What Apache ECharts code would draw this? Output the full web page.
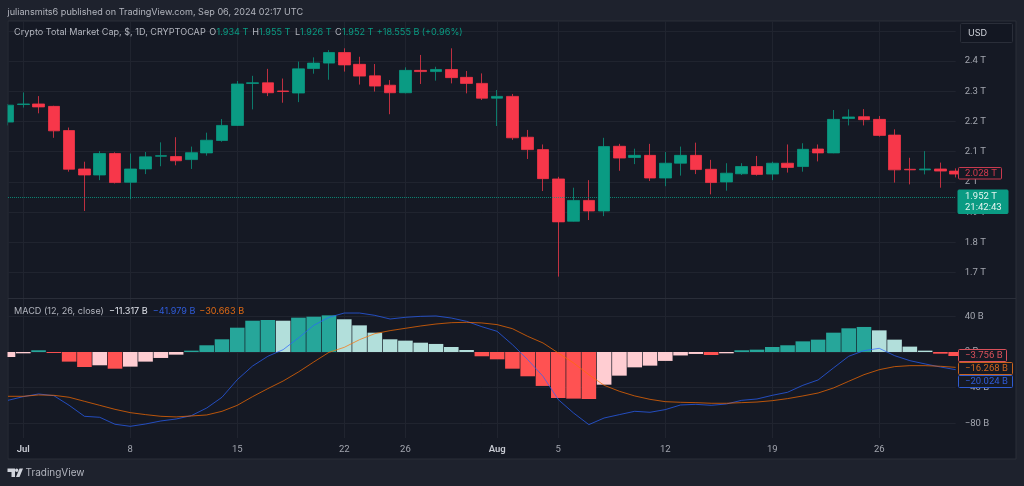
<!DOCTYPE html>
<html>
<head>
<meta charset="utf-8">
<title>Crypto Total Market Cap</title>
<style>
  html, body { margin: 0; padding: 0; background: #1e222d; }
  #chart { width: 1024px; height: 486px; }
</style>
<script src="https://cdn.jsdelivr.net/npm/echarts@6/dist/echarts.min.js"></script>
</head>
<body>
<div id="chart"></div>
<script>
// daily sessions, values
var dates = [
    "06-30", "07-01", "07-02", "07-03", "07-04", "07-05", "07-06", "07-07", "07-08", "07-09",
    "07-10", "07-11", "07-12", "07-13", "07-14", "07-15", "07-16", "07-17", "07-18", "07-19",
    "07-20", "07-21", "07-22", "07-23", "07-24", "07-25", "07-26", "07-27", "07-28", "07-29",
    "07-30", "07-31", "08-01", "08-02", "08-03", "08-04", "08-05", "08-06", "08-07", "08-08",
    "08-09", "08-10", "08-11", "08-12", "08-13", "08-14", "08-15", "08-16", "08-17", "08-18",
    "08-19", "08-20", "08-21", "08-22", "08-23", "08-24", "08-25", "08-26", "08-27", "08-28",
    "08-29", "08-30", "08-31"
];
var tickDates = ["07-01", "07-08", "07-15", "07-22", "07-26", "08-01", "08-05", "08-12", "08-19", "08-26"];
var tickLabels = ["Jul", "8", "15", "22", "26", "Aug", "5", "12", "19", "26"];

// price in trillions
var opens = [
    2.198, 2.256, 2.258, 2.250, 2.170, 2.043, 2.023, 2.094, 1.999, 2.043,
    2.085, 2.084, 2.074, 2.096, 2.137, 2.187, 2.326, 2.328, 2.301, 2.294,
    2.375, 2.393, 2.428, 2.389, 2.351, 2.320, 2.295, 2.369, 2.365, 2.372,
    2.346, 2.326, 2.277, 2.283, 2.148, 2.107, 2.010, 1.870, 1.939, 1.904,
    2.118, 2.081, 2.088, 2.013, 2.062, 2.088, 2.042, 2.000, 2.027, 2.051,
    2.026, 2.062, 2.051, 2.109, 2.096, 2.210, 2.216, 2.207, 2.155, 2.042,
    2.040, 2.043, 2.036
];
var closes = [
    2.254, 2.258, 2.248, 2.169, 2.042, 2.023, 2.094, 1.998, 2.043, 2.083,
    2.087, 2.070, 2.097, 2.138, 2.187, 2.324, 2.328, 2.295, 2.299, 2.374,
    2.393, 2.428, 2.387, 2.350, 2.317, 2.295, 2.369, 2.365, 2.372, 2.345,
    2.326, 2.277, 2.283, 2.146, 2.107, 2.011, 1.868, 1.939, 1.904, 2.117,
    2.079, 2.088, 2.013, 2.062, 2.088, 2.041, 1.998, 2.029, 2.051, 2.025,
    2.062, 2.048, 2.108, 2.096, 2.207, 2.215, 2.206, 2.154, 2.040, 2.040,
    2.043, 2.036, 2.026
];
var lows = [
    2.187, 2.246, 2.227, 2.146, 2.034, 1.904, 2.006, 1.995, 1.943, 2.026,
    2.052, 2.055, 2.043, 2.087, 2.133, 2.185, 2.240, 2.284, 2.262, 2.264,
    2.358, 2.338, 2.365, 2.322, 2.299, 2.224, 2.293, 2.324, 2.335, 2.326,
    2.293, 2.271, 2.185, 2.139, 2.076, 1.970, 1.687, 1.869, 1.874, 1.887,
    2.037, 2.059, 2.003, 1.986, 2.021, 2.026, 1.959, 1.971, 2.023, 2.021,
    2.006, 2.031, 2.034, 2.068, 2.095, 2.187, 2.187, 2.150, 1.998, 1.992,
    2.025, 1.981, 2.015
];
var highs = [
    2.258, 2.296, 2.284, 2.252, 2.180, 2.067, 2.102, 2.098, 2.094, 2.099,
    2.131, 2.148, 2.117, 2.163, 2.208, 2.334, 2.351, 2.374, 2.342, 2.398,
    2.412, 2.436, 2.442, 2.414, 2.390, 2.337, 2.379, 2.420, 2.381, 2.442,
    2.367, 2.359, 2.304, 2.291, 2.172, 2.124, 2.017, 1.981, 2.006, 2.146,
    2.126, 2.110, 2.126, 2.099, 2.117, 2.130, 2.073, 2.062, 2.062, 2.086,
    2.067, 2.124, 2.128, 2.124, 2.238, 2.240, 2.241, 2.218, 2.174, 2.080,
    2.102, 2.064, 2.045
];
var lastPrice = 1.952;

// MACD pane in billions
var histogram = [
    -5.6, -1.5, 1.9, -1.1, -10.8, -16.8, -14.9, -18.7, -16.4, -10.8,
    -6.7, -3.0, 1.5, 7.5, 14.2, 27.2, 35.0, 35.8, 35.0, 38.4,
    39.5, 41.0, 36.6, 29.8, 21.6, 14.2, 12.7, 10.4, 9.0, 5.6,
    2.2, -4.8, -8.2, -18.7, -27.2, -38.0, -51.5, -52.2, -52.6, -36.6,
    -26.5, -17.2, -15.3, -10.0, -3.9, -2.2, -3.4, -1.5, 1.9, 2.6,
    5.6, 7.5, 11.9, 13.8, 21.6, 26.5, 28.0, 24.2, 13.8, 6.0,
    1.5, -1.9, -4.5
];
var macdLine = [
    -54.1, -50.0, -47.0, -48.9, -59.7, -72.0, -73.1, -80.9, -83.2, -80.6,
    -77.2, -75.0, -71.2, -62.7, -50.7, -31.0, -15.7, -4.8, 2.6, 15.7,
    29.8, 38.8, 43.6, 43.6, 41.0, 36.9, 38.8, 39.9, 40.3, 38.0,
    34.3, 28.3, 23.1, 8.2, -8.6, -27.2, -53.3, -68.3, -81.3, -73.9,
    -70.1, -66.4, -67.5, -64.5, -59.3, -58.6, -59.7, -58.2, -54.1, -52.6,
    -48.5, -45.1, -37.3, -31.3, -17.9, -4.8, 1.5, 4.1, -4.1, -9.7,
    -13.4, -16.8, -19.8
];
var signalLine = [
    -49.6, -49.6, -48.1, -48.5, -50.7, -55.2, -59.7, -64.2, -67.9, -70.1,
    -72.0, -72.7, -71.6, -70.5, -66.4, -59.7, -50.0, -41.0, -32.5, -22.4,
    -11.2, -0.4, 5.2, 13.8, 20.5, 23.9, 26.5, 29.1, 31.3, 32.8,
    33.2, 32.5, 30.6, 26.1, 17.5, 10.1, -1.1, -12.3, -25.4, -37.3,
    -44.0, -49.2, -53.0, -55.6, -56.3, -56.7, -57.4, -57.4, -56.7, -56.0,
    -54.5, -52.2, -49.2, -45.9, -40.3, -32.8, -25.4, -19.8, -16.4, -15.3,
    -15.3, -16.0, -17.2
];

var FRAME = '#1e222d';
var PANE = '#151924';
var GRIDLINE = '#20242f';
var BORDER = '#2a2e39';
var TEXT = '#b2b5be';
var SCALE_TEXT = '#a3a6af';
var UP = '#0a9b83';
var DOWN = '#f7374a';
var BLUE = '#2962ff';
var ORANGE = '#ff6d00';
var FONT = 'Inter, "Noto Sans", sans-serif';
var SCALE_FONT = 'Roboto, sans-serif';
var SMALL = 9.1;
var SCALE_SIZE = 9.5;

var candles = dates.map(function(d, i) {
    return [opens[i], closes[i], lows[i], highs[i]];
});

function histColor(params) {
    var value = histogram[params.dataIndex];
    var prev = params.dataIndex > 0 ? histogram[params.dataIndex - 1] : value - 1;
    if (value >= 0) {
        return value >= prev ? '#26a69a' : '#b2dfdb';
    }
    return value < prev ? '#ff5252' : '#ffcdd2';
}

function isTick(index, value) {
    return tickDates.indexOf(value) >= 0;
}

function text(x, y, str, color, size) {
    return {
        type: 'text', z: 100, x: x, y: y,
        style: {
            text: str, fill: color, fontFamily: FONT, fontSize: size || SMALL,
            verticalAlign: 'middle'
        }
    };
}

function tagText(x, y, str, color) {
    var el = text(x, y, str, color, SCALE_SIZE);
    el.style.fontFamily = SCALE_FONT;
    return el;
}

function priceBox(x, y, w, h, stroke, fill) {
    return {
        type: 'rect', z: 99,
        shape: { x: x, y: y, width: w, height: h, r: 1 },
        style: { fill: fill, stroke: stroke, lineWidth: 1 }
    };
}

var graphicItems = [
    // pane behind everything, strip hiding the part of the first session left of the pane, pane divider
    { type: 'rect', z: -5, shape: { x: 8, y: 21, width: 1008, height: 438 }, style: { fill: PANE, stroke: BORDER, lineWidth: 1 } },
    { type: 'rect', z: 50, shape: { x: 0, y: 21, width: 7.5, height: 438 }, style: { fill: FRAME } },
    { type: 'line', z: 5, shape: { x1: 8, y1: 298.5, x2: 1016, y2: 298.5 }, style: { stroke: BORDER, lineWidth: 1 } },

    text(7.5, 12, 'juliansmits6 published on TradingView.com, Sep 06, 2024 02:17 UTC', TEXT),

    // symbol legend
    text(14, 32.5, 'Crypto Total Market Cap, $, 1D, CRYPTOCAP', TEXT),
    text(209.3, 32.5, 'O', TEXT),
    text(216.5, 32.5, '1.934 T', UP),
    text(252.3, 32.5, 'H', TEXT),
    text(259, 32.5, '1.955 T', UP),
    text(295, 32.5, 'L', TEXT),
    text(300, 32.5, '1.926 T', UP),
    text(335, 32.5, 'C', TEXT),
    text(342, 32.5, '1.952 T', UP),
    text(376.7, 32.5, '+18.555 B', UP),
    text(421.7, 32.5, '(+0.96%)', UP),

    // MACD legend
    text(14, 311.5, 'MACD (12, 26, close)', TEXT),
    text(109, 311.5, '\u221211.317 B', '#e0e3eb'),
    text(152.7, 311.5, '\u221241.979 B', '#2f5bd8'),
    text(199.3, 311.5, '\u221230.663 B', '#e06a14'),

    // currency button
    priceBox(960.5, 23.5, 52, 19, BORDER, '#131722'),
    text(968, 33, 'USD', '#d1d4dc'),

    // price scale tags
    priceBox(958.5, 167.5, 43, 11.5, '#c93a4e', PANE),
    tagText(965, 173.5, '2.028 T', '#d23a4e'),
    priceBox(958, 190, 50, 23.5, UP, UP),
    tagText(965, 196.5, '1.952 T', '#e6f5f1'),
    tagText(965, 207.5, '21:42:43', '#e6f5f1'),

    // MACD scale tags
    priceBox(958.5, 349.5, 48, 12, '#d9505a', PANE),
    tagText(965, 355.5, '\u22123.756 B', '#d9505a'),
    priceBox(958.5, 362.5, 54, 12, '#c8641e', PANE),
    tagText(965, 368.5, '\u221216.268 B', '#d0661c'),
    priceBox(958.5, 375.5, 54, 12, '#2f5bd0', PANE),
    tagText(965, 381.5, '\u221220.024 B', '#2f5bd8'),

    // logo and footer
    { type: 'polygon', z: 100, shape: { points: [[7.5, 468.5], [15, 468.5], [15, 477], [11.5, 477], [11.5, 472], [7.5, 472]] }, style: { fill: '#d1d4dc' } },
    { type: 'polygon', z: 100, shape: { points: [[19.5, 468.5], [23, 468.5], [19.5, 477], [16, 477]] }, style: { fill: '#d1d4dc' } },
    { type: 'circle', z: 100, shape: { cx: 16.7, cy: 470.2, r: 1.7 }, style: { fill: '#d1d4dc' } },
    text(25.5, 473, 'TradingView', TEXT, 10)
];

var chart = echarts.init(document.getElementById('chart'));

var option = {
    animation: false,
    backgroundColor: FRAME,
    graphic: { elements: graphicItems },
    // price pane, MACD pane, and one tall grid carrying the shared time scale
    grid: [
        { left: 8, top: 30.76, width: 947.7, height: 272.16 },
        { left: 8, top: 280.5, width: 947.7, height: 178.7 },
        { left: 8, top: 21, width: 947.7, height: 417 }
    ],
    xAxis: [
        { type: 'category', gridIndex: 0, data: dates, boundaryGap: false, show: false },
        { type: 'category', gridIndex: 1, data: dates, boundaryGap: false, show: false },
        {
            type: 'category', gridIndex: 2, data: dates, boundaryGap: false,
            axisLine: { show: false },
            axisTick: { show: false },
            splitLine: { show: true, interval: isTick, lineStyle: { color: GRIDLINE, width: 1 } },
            axisLabel: {
                interval: isTick,
                margin: 6.5,
                color: SCALE_TEXT,
                fontFamily: SCALE_FONT,
                fontSize: SCALE_SIZE,
                formatter: function(value) {
                    var label = tickLabels[tickDates.indexOf(value)];
                    return isNaN(label) ? '{month|' + label + '}' : label;
                },
                rich: { month: { color: '#c8cbd3', fontWeight: 600, fontFamily: SCALE_FONT, fontSize: SCALE_SIZE } }
            }
        }
    ],
    yAxis: [
        {
            type: 'value', gridIndex: 0, position: 'right', min: 1.6, max: 2.5, interval: 0.1,
            axisLine: { show: false },
            axisTick: { show: false },
            splitLine: { showMinLine: false, lineStyle: { color: GRIDLINE, width: 1 } },
            axisLabel: {
                margin: 9, color: SCALE_TEXT, fontFamily: SCALE_FONT, fontSize: SCALE_SIZE,
                showMinLabel: false, showMaxLabel: false,
                formatter: function(v) { return +v.toFixed(1) + ' T'; }
            }
        },
        {
            type: 'value', gridIndex: 1, position: 'right', min: -120, max: 80, interval: 40,
            axisLine: { show: false },
            axisTick: { show: false },
            splitLine: { showMinLine: false, showMaxLine: false, lineStyle: { color: GRIDLINE, width: 1 } },
            axisLabel: {
                margin: 9, color: SCALE_TEXT, fontFamily: SCALE_FONT, fontSize: SCALE_SIZE,
                showMinLabel: false, showMaxLabel: false,
                formatter: function(v) { return String(v).replace('-', '\u2212') + ' B'; }
            }
        },
        { type: 'value', gridIndex: 2, min: 0, max: 1, show: false }
    ],
    series: [
        {
            name: 'Price',
            type: 'candlestick',
            xAxisIndex: 0,
            yAxisIndex: 0,
            barWidth: 12,
            clip: true,
            data: candles,
            itemStyle: { color: UP, color0: DOWN, borderColor: UP, borderColor0: DOWN, borderWidth: 0.75 },
            markLine: {
                silent: true,
                symbol: 'none',
                label: { show: false },
                lineStyle: { color: UP, type: 'dotted', width: 1, opacity: 0.8 },
                data: [{ yAxis: lastPrice }]
            }
        },
        {
            name: 'Histogram',
            type: 'bar',
            xAxisIndex: 1,
            yAxisIndex: 1,
            barWidth: 14.6,
            data: histogram,
            itemStyle: { color: histColor }
        },
        {
            name: 'MACD',
            type: 'line',
            xAxisIndex: 1,
            yAxisIndex: 1,
            symbol: 'none',
            data: macdLine,
            lineStyle: { color: BLUE, width: 1, opacity: 0.7 }
        },
        {
            name: 'Signal',
            type: 'line',
            xAxisIndex: 1,
            yAxisIndex: 1,
            symbol: 'none',
            data: signalLine,
            lineStyle: { color: ORANGE, width: 1, opacity: 0.7 }
        }
    ]
};

chart.setOption(option);
</script>
</body>
</html>
